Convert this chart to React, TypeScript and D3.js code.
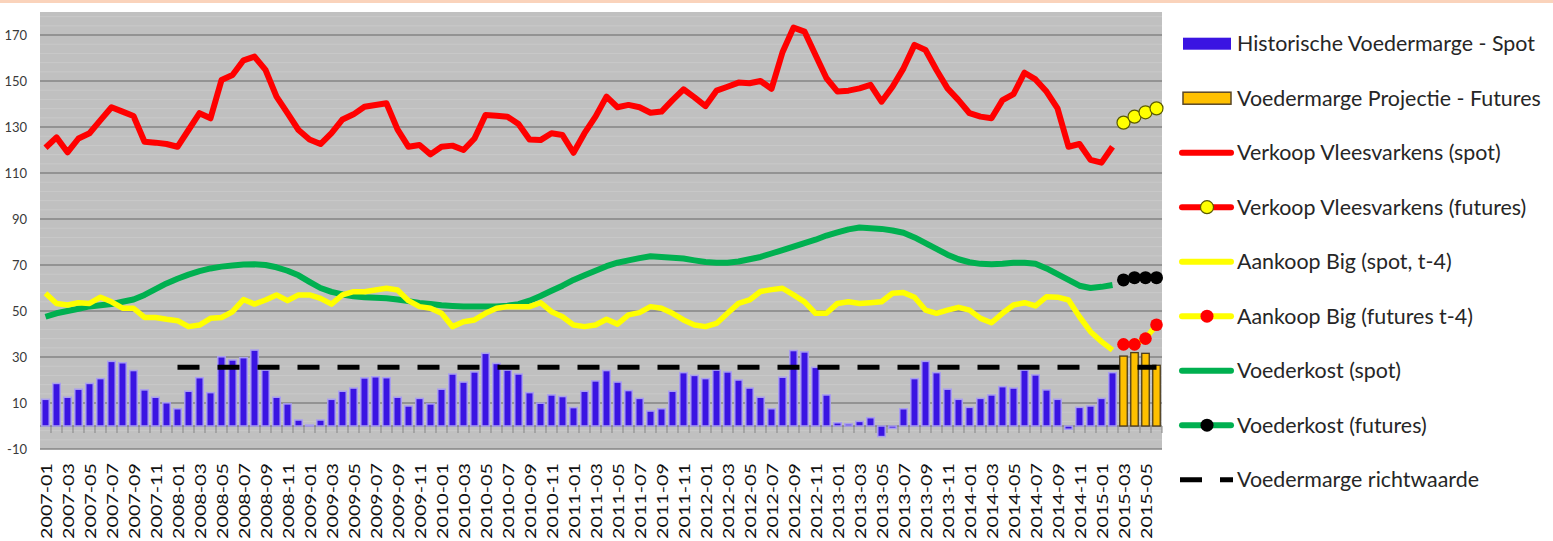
import * as d3 from 'd3';

const W = 1553;
const H = 541;
const plot = { left: 40, right: 1162, top: 12, bottom: 449 };

// maanden 2007-01 .. 2015-06
const months: string[] = d3
  .timeMonth.range(new Date(2007, 0, 1), new Date(2015, 6, 1))
  .map(d3.timeFormat('%Y-%m'));
const spotMonths = months.slice(0, 98);
const futMonths = months.slice(98);

const margeSpot = [
  11.6, 18.5, 12.5, 16, 18.5, 20.6, 28.1, 27.5, 24.1, 15.7, 12.5, 10.1,
  7.5, 15.1, 21, 14.5, 30.1, 28.7, 29.7, 33, 24.3, 12.5, 9.6, 2.6,
  0.4, 2.6, 11.6, 15.1, 16.5, 20.9, 21.4, 21, 12.5, 8.7, 12, 9.6,
  16, 22.6, 19.1, 23.5, 31.6, 27.2, 24.3, 22.6, 14.5, 9.9, 13.5, 12.8,
  8, 15.1, 19.6, 24.1, 19.1, 15.4, 12, 6.5, 7.5, 15.1, 23.2, 22,
  20.6, 24.3, 23.5, 20, 16.5, 12.5, 7.5, 21.2, 32.8, 32.2, 25.5, 13.5,
  1.4, 0.9, 2, 3.6, -4.6, -1, 7.5, 20.6, 28.1, 23.2, 16, 11.6,
  8.1, 12, 13.5, 17.1, 16.5, 24.3, 22.2, 15.7, 11.6, -1.4, 8.1, 8.7,
  12, 23.2,
];
const margeFutures = [30.4, 31.9, 31.6, 26.4];

const verkoopSpot = [
  121, 125.5, 119, 125, 127.3, 133, 138.6, 136.7, 134.8, 123.6, 123.2, 122.6,
  121.4, 128.7, 136, 133.8, 150.4, 152.6, 159, 160.6, 154.8, 143.2, 136, 128.7,
  124.6, 122.6, 127.3, 133.3, 135.5, 138.8, 139.6, 140.3, 129, 121.4, 122.2, 118.1,
  121.4, 121.9, 120, 125, 135.2, 134.9, 134.5, 131.3, 124.6, 124.3, 127.3, 126.5,
  118.8, 127.3, 134.5, 143.2, 138.6, 139.6, 138.6, 136.2, 136.7, 141.7, 146.4, 142.9,
  139.1, 145.8, 147.5, 149.3, 149, 150, 146.6, 162.5, 173.2, 171.5, 161.3, 151.2,
  145.4, 145.8, 146.8, 148.3, 141, 147.5, 155.5, 165.7, 163.5, 154.8, 146.8, 141.7,
  136, 134.5, 133.8, 141.7, 144.3, 153.6, 150.7, 145.4, 138.1, 121.4, 122.6, 115.7,
  114.5, 121.4,
];
const verkoopFutures = [131.9, 134.5, 136.4, 138.1];

const aankoopSpot = [
  57.7, 53.3, 52.6, 53.6, 53.3, 56, 54, 51.2, 51.2, 47.2, 47.2, 46.4,
  45.8, 43.2, 43.9, 46.8, 47.2, 49.7, 55, 53, 54.8, 57, 54.5, 57,
  57, 55.5, 53, 57, 58.4, 58.4, 59.1, 59.9, 59.1, 54.5, 51.9, 51.2,
  49, 43.2, 45.3, 46.1, 49, 51.2, 51.9, 51.9, 51.9, 53.6, 49.7, 47.5,
  43.9, 43.2, 43.9, 46.4, 44.3, 48.3, 49.3, 51.9, 51.2, 49, 46.1, 43.9,
  43.2, 44.6, 49, 53.3, 54.8, 58.5, 59.3, 59.9, 57, 54, 49, 49,
  53.3, 54, 53.3, 53.6, 54, 57.7, 58, 56, 50.4, 49, 50.4, 51.6,
  50.4, 46.8, 44.9, 49, 52.6, 53.6, 52.2, 56.2, 56, 54.8, 47.5, 41,
  36.7, 33,
];
const aankoopFutures = [35.5, 35.5, 38, 44];

const voederSpot = [
  47.5, 49, 50, 51, 52, 52.5, 53, 54, 55, 57, 59.5, 62,
  64, 65.8, 67.3, 68.5, 69.3, 69.8, 70.2, 70.3, 70, 69, 67.5, 65.5,
  62.7, 60, 58.3, 57.2, 56.4, 56, 55.8, 55.5, 55, 54.3, 53.5, 53,
  52.5, 52.2, 52, 52, 52, 52, 52.3, 53, 54.5, 56.5, 58.8, 61,
  63.5, 65.5, 67.5, 69.5, 71, 72, 73, 73.8, 73.5, 73.2, 72.8, 72,
  71.3, 71, 71, 71.5, 72.5, 73.5, 75, 76.5, 78, 79.5, 81, 82.8,
  84.2, 85.5, 86.3, 86, 85.7, 85, 84, 82, 79.5, 77, 74.5, 72.5,
  71.2, 70.5, 70.3, 70.5, 71, 71, 70.5, 68.5, 66, 63.5, 61, 60,
  60.5, 61.3,
];
const voederFutures = [63.5, 64.5, 64.5, 64.5];

const richtwaarde = 25.5;
const richtMonths = months.slice(months.indexOf('2008-01'));

const yTicks = d3.range(-10, 171, 20);
const yMinor = d3.range(-10, 180, 4).filter((v) => (v + 10) % 20 !== 0);
const xTickLabels = months.filter((_, i) => i % 2 === 0);

const BLUE = '#3a14e2';
const ORANGE = '#ffc000';
const RED = '#ff0000';
const YELLOW = '#ffff00';
const GREEN = '#00b050';

const legendItems = [
  { label: 'Historische Voedermarge - Spot', kind: 'rect', color: BLUE },
  { label: 'Voedermarge Projectie - Futures', kind: 'rect', color: ORANGE, stroke: '#5a4626' },
  { label: 'Verkoop Vleesvarkens (spot)', kind: 'line', color: RED },
  { label: 'Verkoop Vleesvarkens (futures)', kind: 'line', color: RED, marker: YELLOW, mstroke: '#5a5a00' },
  { label: 'Aankoop Big (spot, t-4)', kind: 'line', color: YELLOW },
  { label: 'Aankoop Big (futures t-4)', kind: 'line', color: YELLOW, marker: RED },
  { label: 'Voederkost (spot)', kind: 'line', color: GREEN },
  { label: 'Voederkost (futures)', kind: 'line', color: GREEN, marker: '#000000' },
  { label: 'Voedermarge richtwaarde', kind: 'dash', color: '#000000' },
];

const FONT = 'Lato, "Open Sans", sans-serif';

export default function App() {
  const x = d3
    .scaleBand<string>()
    .domain(months)
    .range([plot.left, plot.right])
    .paddingInner(0.32)
    .paddingOuter(0.16);
  const y = d3.scaleLinear().domain([-10, 180]).range([plot.bottom, plot.top]);
  const cx = (m: string) => (x(m) ?? 0) + x.bandwidth() / 2;

  const line = d3
    .line<[string, number]>()
    .x((d) => cx(d[0]))
    .y((d) => y(d[1]));

  const zip = (ms: string[], vs: number[]) => ms.map((m, i) => [m, vs[i]] as [string, number]);

  const step = x.step();

  return (
    <div style={{ position: 'absolute', left: 0, top: 0 }}>
      <svg width={W} height={H} style={{ display: 'block', fontFamily: FONT }}>
        <rect x={0} y={0} width={W} height={H} fill="#ffffff" />
        <rect x={0} y={0} width={W} height={3} fill="#fad3bb" />

        <rect
          x={plot.left}
          y={plot.top}
          width={plot.right - plot.left}
          height={plot.bottom - plot.top}
          fill="#c0c0c0"
        />
        {yMinor.map((v) => (
          <line key={'m' + v} x1={plot.left} x2={plot.right} y1={y(v)} y2={y(v)} stroke="#c9c9c9" strokeWidth={1} />
        ))}
        {yTicks.map((v) => (
          <line key={'g' + v} x1={plot.left} x2={plot.right} y1={y(v)} y2={y(v)} stroke="#858585" strokeWidth={1.5} />
        ))}
        {yTicks.map((v) => (
          <text key={'t' + v} x={27} y={y(v)} dy="0.36em" textAnchor="end" fontSize={13} fill="#3a3a3a">
            {v}
          </text>
        ))}

        {/* nul-as met maandticks */}
        <line x1={plot.left} x2={plot.right} y1={y(0)} y2={y(0)} stroke="#858585" strokeWidth={1.5} />
        {months.map((m, i) => (
          <line
            key={'k' + m}
            x1={plot.left + step * (i + 1)}
            x2={plot.left + step * (i + 1)}
            y1={y(0)}
            y2={y(0) + 7}
            stroke="#858585"
            strokeWidth={1}
          />
        ))}

        {spotMonths.map((m, i) => (
          <rect
            key={'b' + m}
            x={x(m)}
            width={x.bandwidth()}
            y={y(Math.max(0, margeSpot[i]))}
            height={Math.abs(y(margeSpot[i]) - y(0))}
            fill={BLUE}
            stroke="#a99ef0"
            strokeWidth={1.5}
          />
        ))}
        {futMonths.map((m, i) => (
          <rect
            key={'f' + m}
            x={x(m)}
            width={x.bandwidth()}
            y={y(margeFutures[i])}
            height={y(0) - y(margeFutures[i])}
            fill={ORANGE}
            stroke="#4a3a1c"
            strokeWidth={1.3}
          />
        ))}

        <path
          d={line(zip(richtMonths, richtMonths.map(() => richtwaarde))) ?? ''}
          fill="none"
          stroke="#000"
          strokeWidth={5}
          strokeDasharray="22 18"
        />

        <path d={line(zip(spotMonths, voederSpot)) ?? ''} fill="none" stroke={GREEN} strokeWidth={6} strokeLinejoin="round" />
        <path d={line(zip(futMonths, voederFutures)) ?? ''} fill="none" stroke={GREEN} strokeWidth={6} />
        <path d={line(zip(spotMonths, aankoopSpot)) ?? ''} fill="none" stroke={YELLOW} strokeWidth={5.5} strokeLinejoin="round" />
        <path d={line(zip(futMonths, aankoopFutures)) ?? ''} fill="none" stroke={YELLOW} strokeWidth={5.5} />
        <path d={line(zip(spotMonths, verkoopSpot)) ?? ''} fill="none" stroke={RED} strokeWidth={6} strokeLinejoin="round" />
        <path d={line(zip(futMonths, verkoopFutures)) ?? ''} fill="none" stroke={RED} strokeWidth={6} />

        {futMonths.map((m, i) => (
          <g key={'p' + m}>
            <circle cx={cx(m)} cy={y(verkoopFutures[i])} r={6.5} fill={YELLOW} stroke="#5a5a00" strokeWidth={1.2} />
            <circle cx={cx(m)} cy={y(aankoopFutures[i])} r={6.3} fill={RED} />
            <circle cx={cx(m)} cy={y(voederFutures[i])} r={6.5} fill="#000" />
          </g>
        ))}

        {xTickLabels.map((m) => (
          <text
            key={'x' + m}
            transform={`translate(${cx(m)},463) rotate(-90)`}
            textAnchor="end"
            dominantBaseline="central"
            fontSize={16}
            fill="#111"
            textLength={76}
            lengthAdjust="spacingAndGlyphs"
          >
            {m}
          </text>
        ))}

        {legendItems.map((it, i) => {
          const ly = 43.7 + i * 54.5;
          return (
            <g key={it.label}>
              {it.kind === 'rect' && (
                <rect x={1183} y={ly - 6} width={48} height={12} fill={it.color} stroke={it.stroke ?? 'none'} strokeWidth={1.5} />
              )}
              {it.kind === 'line' && (
                <line x1={1182} x2={1231} y1={ly} y2={ly} stroke={it.color} strokeWidth={6} strokeLinecap="round" />
              )}
              {it.kind === 'dash' && (
                <line x1={1180} x2={1233} y1={ly} y2={ly} stroke={it.color} strokeWidth={5} strokeDasharray="22 18" />
              )}
              {it.marker && <circle cx={1207} cy={ly} r={6.5} fill={it.marker} stroke={it.mstroke ?? 'none'} strokeWidth={1.2} />}
              <text x={1237} y={ly} dy="0.35em" fontSize={21.4} fill="#262626">
                {it.label}
              </text>
            </g>
          );
        })}
      </svg>
    </div>
  );
}
